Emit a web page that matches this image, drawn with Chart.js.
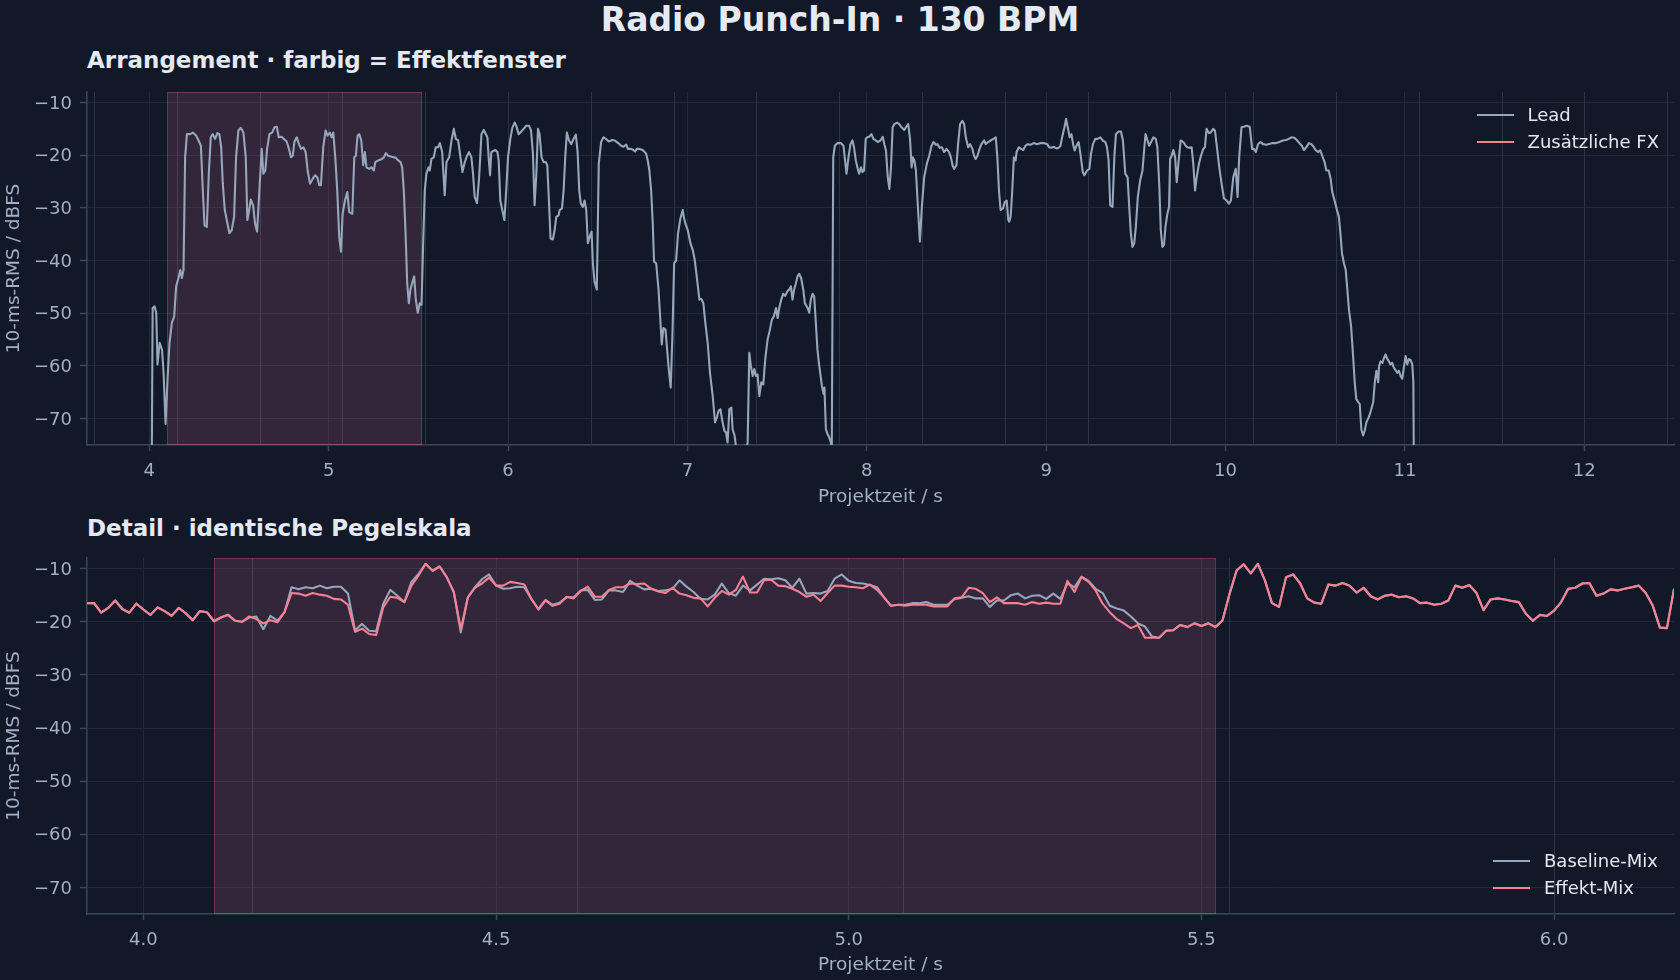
<!DOCTYPE html>
<html>
<head>
<meta charset="utf-8">
<script src="https://cdn.jsdelivr.net/npm/chart.js@4.4.1/dist/chart.umd.min.js"></script>
<style>
html,body{margin:0;padding:0;background:#111827;width:1680px;height:980px;overflow:hidden;font-family:"DejaVu Sans",sans-serif;}
.t{position:absolute;color:#e5e9f2;font-weight:bold;white-space:nowrap;line-height:1;}
canvas{position:absolute;left:0;}
.legend{position:absolute;right:22px;font-size:18px;color:#e2e8f0;display:flex;flex-direction:column;align-items:flex-start;}
.legend .row{display:flex;align-items:center;height:26.7px;line-height:1;white-space:nowrap;}
.legend .sw{width:37px;height:2px;margin-right:14px;}
</style>
</head>
<body>
<div class="t" style="left:0;width:1680px;text-align:center;top:3px;font-size:33px;">Radio Punch-In · 130 BPM</div>
<div class="t" style="left:87px;top:49px;font-size:23px;">Arrangement · farbig = Effektfenster</div>
<div class="t" style="left:87px;top:517px;font-size:23px;">Detail · identische Pegelskala</div>
<canvas id="c1" width="1680" height="436" style="top:72px;width:1680px;height:436px"></canvas>
<canvas id="c2" width="1680" height="438" style="top:538px;width:1680px;height:438px"></canvas>
<div class="legend" style="top:101.6px;right:21px">
  <div class="row"><span class="sw" style="background:#97a6bb"></span>Lead</div>
  <div class="row"><span class="sw" style="background:#fb7f92"></span>Zusätzliche FX</div>
</div>
<div class="legend" style="top:847.6px">
  <div class="row"><span class="sw" style="background:#97a6bb"></span>Baseline-Mix</div>
  <div class="row"><span class="sw" style="background:#fb7f92"></span>Effekt-Mix</div>
</div>
<script>
// ---------- data ----------
const BPM = 130;
const FX_WINDOW = [4.10, 5.52];

const leadT = [4.012,4.019,4.030,4.039,4.046,4.058,4.071,4.080,4.091,4.102,4.113,4.126,4.139,4.150,4.163,4.173,4.182,4.191,4.200,4.210,4.228,4.243,4.262,4.275,4.288,4.297,4.308,4.321,4.332,4.343,4.354,4.367,4.380,4.391,4.401,4.410,4.421,4.432,4.447,4.460,4.473,4.484,4.497,4.510,4.525,4.538,4.547,4.557,4.566,4.579,4.590,4.601,4.614,4.627,4.636,4.647,4.657,4.670,4.685,4.698,4.711,4.722,4.737,4.751,4.766,4.779,4.790,4.800,4.809,4.822,4.835,4.846,4.859,4.872,4.883,4.896,4.911,4.924,4.937,4.948,4.957,4.970,4.983,4.994,5.007,5.017,5.026,5.037,5.048,5.059,5.069,5.078,5.091,5.104,5.115,5.132,5.143,5.152,5.161,5.171,5.182,5.193,5.202,5.211,5.226,5.239,5.252,5.260,5.276,5.297,5.308,5.319,5.332,5.351,5.375,5.388,5.401,5.410,5.419,5.429,5.438,5.447,5.456,5.468,5.477,5.486,5.497,5.508,5.518,5.527,5.536,5.545,5.557,5.564,5.573,5.586,5.597,5.610,5.620,5.633,5.647,5.657,5.672,5.685,5.698,5.709,5.722,5.735,5.746,5.759,5.772,5.783,5.796,5.805,5.814,5.827,5.839,5.852,5.865,5.885,5.892,5.900,5.907,5.917,5.929,5.941,5.948,5.957,5.968,5.980,5.991,6.000,6.013,6.024,6.037,6.046,6.059,6.074,6.087,6.102,6.117,6.128,6.139,6.148,6.158,6.167,6.176,6.187,6.199,6.210,6.219,6.228,6.237,6.250,6.260,6.269,6.282,6.288,6.301,6.310,6.319,6.328,6.340,6.353,6.365,6.378,6.388,6.397,6.406,6.417,6.427,6.436,6.445,6.455,6.466,6.473,6.482,6.495,6.506,6.519,6.532,6.547,6.562,6.581,6.594,6.607,6.622,6.631,6.644,6.659,6.668,6.686,6.699,6.709,6.718,6.733,6.751,6.770,6.779,6.788,6.798,6.807,6.814,6.826,6.839,6.848,6.857,6.866,6.878,6.887,6.896,6.907,6.917,6.926,6.937,6.948,6.961,6.974,6.980,6.989,7.002,7.017,7.030,7.041,7.052,7.067,7.078,7.089,7.100,7.113,7.126,7.141,7.154,7.165,7.174,7.184,7.193,7.206,7.215,7.224,7.234,7.245,7.252,7.263,7.275,7.299,7.317,7.327,7.336,7.345,7.354,7.364,7.373,7.382,7.391,7.401,7.412,7.423,7.434,7.447,7.460,7.471,7.482,7.494,7.503,7.512,7.523,7.534,7.545,7.558,7.568,7.577,7.586,7.595,7.605,7.614,7.623,7.634,7.646,7.655,7.670,7.679,7.688,7.698,7.707,7.716,7.725,7.735,7.750,7.759,7.764,7.772,7.781,7.790,7.800,7.805,7.813,7.822,7.837,7.855,7.870,7.879,7.887,7.898,7.909,7.920,7.929,7.939,7.950,7.957,7.968,7.976,7.985,7.994,8.003,8.013,8.026,8.037,8.050,8.061,8.076,8.089,8.098,8.107,8.117,8.126,8.135,8.144,8.154,8.169,8.181,8.194,8.209,8.220,8.231,8.241,8.250,8.257,8.265,8.274,8.283,8.296,8.307,8.320,8.335,8.348,8.361,8.372,8.385,8.394,8.407,8.419,8.431,8.444,8.459,8.469,8.478,8.487,8.500,8.509,8.520,8.533,8.543,8.552,8.565,8.576,8.589,8.598,8.607,8.617,8.626,8.639,8.654,8.663,8.676,8.691,8.706,8.719,8.728,8.737,8.746,8.759,8.769,8.780,8.789,8.794,8.802,8.811,8.820,8.830,8.835,8.848,8.861,8.872,8.885,8.898,8.913,8.931,8.950,8.969,8.987,9.006,9.017,9.028,9.043,9.057,9.070,9.080,9.089,9.102,9.111,9.122,9.131,9.141,9.150,9.159,9.169,9.181,9.191,9.204,9.213,9.228,9.241,9.250,9.261,9.274,9.287,9.302,9.315,9.330,9.339,9.348,9.357,9.370,9.380,9.389,9.404,9.417,9.428,9.441,9.454,9.463,9.472,9.481,9.491,9.500,9.511,9.524,9.537,9.546,9.554,9.565,9.574,9.585,9.598,9.611,9.620,9.631,9.639,9.648,9.657,9.665,9.676,9.685,9.691,9.700,9.709,9.719,9.728,9.737,9.750,9.765,9.778,9.787,9.802,9.811,9.820,9.830,9.839,9.852,9.863,9.876,9.885,9.894,9.907,9.917,9.931,9.941,9.950,9.965,9.978,9.991,10.006,10.019,10.030,10.043,10.057,10.067,10.076,10.089,10.102,10.117,10.135,10.148,10.159,10.169,10.181,10.194,10.209,10.228,10.263,10.282,10.300,10.319,10.338,10.353,10.366,10.384,10.397,10.412,10.425,10.437,10.450,10.465,10.478,10.491,10.502,10.515,10.528,10.539,10.552,10.562,10.575,10.586,10.595,10.608,10.621,10.632,10.642,10.649,10.660,10.670,10.679,10.688,10.700,10.711,10.720,10.729,10.741,10.748,10.757,10.767,10.776,10.785,10.799,10.810,10.823,10.832,10.841,10.851,10.856,10.864,10.875,10.882,10.892,10.901,10.910,10.920,10.929,10.938,10.948,10.957,10.966,10.976,10.985,10.994,11.004,11.013,11.022,11.032,11.041,11.047,11.052];

const leadV = [-90,-49.0,-48.7,-49.9,-59.7,-55.6,-56.9,-61.3,-71.0,-62.5,-55.6,-51.8,-50.6,-44.9,-43.3,-41.8,-43.3,-41.8,-20.4,-16.0,-16.0,-15.7,-16.3,-17.2,-18.2,-25.4,-33.3,-33.6,-23.5,-16.6,-16.0,-16.9,-15.8,-16.0,-18.5,-25.4,-30.4,-32.3,-34.8,-34.2,-31.7,-20.4,-15.3,-14.8,-15.7,-20.4,-32.3,-30.4,-28.4,-29.5,-33.0,-34.5,-26.7,-18.8,-23.5,-22.9,-18.8,-16.0,-15.7,-14.7,-14.6,-16.6,-16.5,-16.9,-17.4,-18.8,-20.4,-20.1,-17.5,-16.6,-17.9,-18.8,-18.5,-19.4,-22.9,-25.4,-24.5,-23.8,-24.2,-25.7,-25.7,-18.5,-15.3,-16.3,-15.7,-16.6,-15.7,-20.4,-26.7,-35.5,-38.3,-31.1,-28.6,-27.0,-30.8,-31.1,-20.4,-20.1,-16.3,-16.0,-17.2,-21.9,-19.4,-22.3,-22.6,-22.3,-22.9,-21.3,-21.0,-20.7,-20.4,-19.6,-20.1,-20.3,-20.5,-21.0,-21.3,-22.3,-26.7,-34.8,-44.3,-48.1,-45.5,-44.0,-43.0,-47.4,-49.9,-48.1,-48.4,-36.7,-26.7,-23.5,-22.3,-22.9,-20.7,-20.4,-18.5,-18.5,-17.7,-19.4,-27.6,-21.3,-20.4,-17.2,-15.0,-16.9,-17.2,-20.4,-23.2,-21.3,-20.1,-19.4,-20.4,-23.5,-27.9,-29.1,-24.2,-16.0,-15.2,-16.6,-20.4,-23.8,-19.4,-19.2,-19.0,-19.4,-21.0,-28.6,-30.4,-32.3,-26.0,-20.4,-16.9,-14.8,-13.8,-14.4,-16.0,-15.5,-15.0,-14.4,-14.4,-15.3,-19.7,-29.5,-23.5,-15.0,-16.0,-20.4,-21.3,-21.3,-21.9,-28.6,-35.8,-36.0,-34.2,-31.7,-31.4,-30.4,-30.1,-26.7,-20.4,-15.7,-17.2,-17.9,-16.9,-16.1,-19.4,-26.7,-29.2,-29.8,-28.6,-30.4,-36.7,-35.5,-34.5,-40.5,-44.0,-45.5,-21.6,-17.5,-16.6,-16.9,-17.4,-17.1,-17.2,-17.5,-17.9,-18.2,-18.4,-18.0,-18.8,-18.8,-19.0,-19.3,-18.8,-18.8,-19.0,-19.7,-21.0,-22.9,-26.7,-33.0,-40.2,-40.5,-45.5,-50.6,-55.9,-52.8,-53.1,-56.9,-60.6,-64.1,-53.7,-40.5,-40.0,-34.8,-32.0,-30.4,-31.7,-33.0,-34.2,-36.7,-38.0,-39.9,-43.0,-47.4,-47.3,-48.1,-51.8,-55.6,-61.3,-65.7,-70.7,-69.7,-68.5,-68.2,-70.1,-72.3,-72.6,-74.5,-68.2,-67.9,-72.0,-73.2,-76.4,-77.6,-75.1,-76.0,-74.5,-57.5,-60.0,-61.9,-60.6,-61.9,-61.6,-65.7,-63.1,-63.5,-58.7,-55.0,-53.1,-51.2,-50.6,-49.0,-50.9,-49.0,-47.4,-46.3,-46.7,-45.8,-45.5,-44.9,-47.4,-45.5,-44.3,-43.0,-42.5,-43.3,-45.5,-48.1,-49.0,-49.9,-47.4,-46.3,-46.8,-51.8,-56.9,-60.0,-63.8,-65.3,-64.1,-72.0,-72.9,-73.5,-74.5,-76.0,-20.4,-18.2,-17.7,-17.7,-18.2,-21.0,-23.5,-20.4,-17.9,-17.2,-18.5,-21.0,-22.6,-23.5,-22.3,-23.2,-22.9,-16.9,-16.6,-16.5,-16.0,-16.9,-17.2,-17.5,-17.2,-16.5,-17.9,-19.1,-24.2,-26.4,-22.3,-14.7,-14.1,-13.8,-14.1,-14.7,-15.2,-14.6,-14.1,-16.9,-22.3,-20.4,-21.0,-22.9,-28.6,-36.4,-29.8,-24.2,-21.6,-20.1,-18.2,-17.5,-18.0,-17.9,-18.6,-18.5,-19.4,-18.8,-19.4,-20.4,-21.9,-22.6,-21.9,-17.9,-14.1,-13.5,-14.1,-16.6,-18.5,-17.9,-18.8,-20.1,-20.7,-20.1,-19.1,-17.9,-17.2,-17.9,-17.5,-17.2,-16.9,-16.6,-20.4,-26.7,-30.4,-30.1,-28.9,-28.6,-32.3,-32.6,-31.7,-26.7,-20.4,-21.0,-19.4,-18.5,-18.8,-19.0,-18.2,-17.9,-18.0,-17.7,-17.9,-17.7,-17.7,-17.9,-18.5,-18.6,-18.4,-18.7,-18.6,-18.2,-16.6,-14.7,-13.1,-15.0,-16.6,-16.0,-17.9,-19.1,-18.2,-17.5,-19.7,-23.2,-23.8,-22.9,-22.6,-19.7,-17.9,-16.9,-16.9,-16.6,-17.2,-17.5,-18.5,-21.0,-29.5,-29.8,-20.4,-16.0,-15.5,-15.5,-17.2,-23.5,-24.2,-29.8,-34.8,-37.4,-36.7,-33.6,-27.9,-24.8,-22.9,-19.1,-16.0,-17.2,-18.2,-17.5,-16.6,-16.9,-18.5,-26.0,-34.2,-37.4,-37.0,-33.6,-31.1,-29.8,-20.7,-20.1,-19.0,-20.4,-25.1,-21.6,-17.2,-17.5,-18.2,-18.5,-18.6,-18.5,-21.6,-26.7,-24.2,-21.6,-20.1,-18.8,-18.5,-15.0,-15.8,-15.7,-15.0,-15.3,-17.9,-22.3,-25.4,-28.2,-28.6,-29.2,-28.6,-24.2,-22.6,-27.9,-20.4,-14.7,-14.6,-14.4,-14.6,-18.8,-18.8,-19.4,-17.9,-17.5,-17.9,-18.0,-17.7,-17.7,-17.5,-17.2,-17.1,-16.9,-16.6,-16.7,-17.1,-17.7,-18.2,-19.0,-18.5,-17.7,-17.9,-18.4,-19.0,-19.4,-19.1,-20.1,-21.3,-22.9,-22.9,-24.5,-27.0,-28.6,-30.4,-31.7,-35.5,-38.6,-40.5,-41.8,-45.5,-49.3,-52.5,-58.1,-63.1,-66.3,-66.9,-67.2,-72.0,-73.2,-72.3,-70.7,-69.7,-68.5,-66.9,-63.1,-60.9,-63.1,-60.0,-59.1,-59.4,-58.6,-57.8,-58.6,-59.1,-59.7,-59.4,-60.3,-60.8,-61.3,-60.9,-61.9,-62.4,-60.3,-58.1,-59.7,-58.7,-58.9,-59.7,-63.1,-90];

// Zusätzliche FX: no visible level in the arrangement view
const fxT = [];
const fxV = [];

const detailT = [3.92,3.93,3.94,3.95,3.96,3.97,3.98,3.99,
4.00,4.01,4.02,4.03,4.04,4.05,4.06,4.07,4.08,4.09,4.10,4.11,4.12,4.13,4.14,4.15,4.16,4.17,4.18,4.19,4.20,4.21,4.22,4.23,4.24,4.25,4.26,4.27,4.28,4.29,4.30,4.31,4.32,4.33,4.34,4.35,4.36,4.37,4.38,4.39,4.40,4.41,4.42,4.43,4.44,4.45,4.46,4.47,4.48,4.49,4.50,4.51,4.52,4.53,4.54,4.55,4.56,4.57,4.58,4.59,4.60,4.61,4.62,4.63,4.64,4.65,4.66,4.67,4.68,4.69,4.70,4.71,4.72,4.73,4.74,4.75,4.76,4.77,4.78,4.79,4.80,4.81,4.82,4.83,4.84,4.85,4.86,4.87,4.88,4.89,4.90,4.91,4.92,4.93,4.94,4.95,4.96,4.97,4.98,4.99,
5.00,5.01,5.02,5.03,5.04,5.05,5.06,5.07,5.08,5.09,5.10,5.11,5.12,5.13,5.14,5.15,5.16,5.17,5.18,5.19,5.20,5.21,5.22,5.23,5.24,5.25,5.26,5.27,5.28,5.29,5.30,5.31,5.32,5.33,5.34,5.35,5.36,5.37,5.38,5.39,5.40,5.41,5.42,5.43,5.44,5.45,5.46,5.47,5.48,5.49,5.50,5.51,5.52,5.53,5.54,5.55,5.56,5.57,5.58,5.59,5.60,5.61,5.62,5.63,5.64,5.65,5.66,5.67,5.68,5.69,5.70,5.71,5.72,5.73,5.74,5.75,5.76,5.77,5.78,5.79,5.80,5.81,5.82,5.83,5.84,5.85,5.86,5.87,5.88,5.89,5.90,5.91,5.92,5.93,5.94,5.95,5.96,5.97,5.98,5.99,
6.00,6.01,6.02,6.03,6.04,6.05,6.06,6.07,6.08,6.09,6.10,6.11,6.12,6.13,6.14,6.15,6.16,6.17];

const effektV = [-16.5,-16.5,-18.3,-17.4,-16.0,-17.6,-18.3,-16.6,-17.7,-18.7,-17.3,-18.0,-18.9,-17.4,-18.4,-19.7,-18.0,-18.2,-19.9,-19.2,-18.7,-19.8,-20.0,-19.0,-19.5,-20.3,-19.7,-20.1,-18.2,-14.6,-14.7,-15.1,-14.6,-14.9,-15.1,-15.7,-15.8,-16.8,-21.9,-21.3,-22.3,-22.5,-17.3,-15.3,-15.5,-16.3,-13.2,-11.3,-9.1,-10.4,-9.6,-11.6,-14.4,-21.4,-15.4,-13.6,-12.8,-11.7,-13.2,-13.2,-12.5,-12.7,-13.0,-15.7,-17.7,-16.0,-17.0,-16.6,-15.3,-15.6,-14.2,-13.4,-15.3,-15.3,-14.0,-13.5,-13.5,-12.8,-12.9,-12.8,-13.8,-14.3,-14.6,-13.6,-14.7,-15.0,-15.5,-15.6,-17.1,-15.5,-14.2,-14.9,-14.0,-11.5,-14.5,-14.5,-12.2,-12.1,-13.2,-13.3,-13.8,-14.4,-15.3,-14.9,-16.1,-14.6,-13.2,-13.2,-13.4,-13.5,-13.7,-13.0,-14.0,-15.4,-17.0,-16.8,-17.0,-16.8,-16.8,-16.8,-17.1,-17.1,-17.1,-15.6,-15.4,-13.6,-13.8,-14.6,-16.3,-15.4,-16.5,-16.5,-16.5,-16.8,-16.3,-16.6,-16.4,-16.6,-16.6,-12.3,-14.4,-11.6,-12.5,-14.1,-16.6,-18.2,-19.5,-20.3,-21.2,-20.6,-23.0,-23.0,-23.0,-21.7,-21.6,-20.6,-21.0,-20.3,-20.8,-20.3,-21.0,-19.7,-14.7,-10.3,-9.2,-10.9,-9.1,-12.2,-16.5,-17.2,-11.6,-11.1,-12.8,-15.6,-16.4,-16.6,-13.0,-13.2,-12.7,-13.2,-14.5,-13.6,-15.2,-15.8,-15.1,-14.9,-15.4,-15.2,-15.6,-16.5,-16.4,-16.8,-16.6,-16.0,-13.2,-13.6,-13.1,-14.6,-17.8,-15.8,-15.6,-15.8,-16.1,-16.3,-18.5,-19.8,-18.7,-18.9,-17.9,-16.3,-13.8,-13.6,-12.8,-12.7,-15.1,-14.7,-13.9,-14.1,-13.8,-13.5,-13.2,-14.6,-17.0,-21.1,-21.2,-13.8];

const baselineV = [-16.5,-16.5,-18.3,-17.4,-16.0,-17.6,-18.3,-16.6,-17.7,-18.7,-17.3,-18.0,-18.9,-17.4,-18.4,-19.7,-18.0,-18.2,-19.9,-19.2,-18.7,-19.8,-20.0,-19.2,-19.0,-21.4,-18.9,-19.8,-18.2,-13.5,-13.9,-13.5,-13.7,-13.2,-13.7,-13.4,-13.4,-14.7,-21.6,-20.4,-21.7,-21.8,-16.6,-14.0,-15.1,-16.3,-12.5,-11.0,-9.1,-10.4,-9.6,-11.6,-14.4,-22.0,-15.4,-13.5,-12.0,-11.1,-13.2,-13.8,-13.7,-13.4,-13.5,-15.7,-17.6,-15.9,-16.8,-16.4,-15.4,-15.4,-14.1,-14.0,-15.9,-15.8,-14.1,-14.1,-14.4,-12.3,-13.2,-13.9,-13.8,-14.2,-14.1,-13.8,-12.2,-13.4,-14.4,-15.7,-15.8,-14.9,-12.8,-14.6,-15.1,-13.2,-14.1,-13.0,-11.9,-12.0,-11.8,-12.2,-13.6,-11.9,-14.7,-14.6,-14.7,-14.2,-11.9,-11.1,-12.3,-12.7,-12.8,-13.1,-13.5,-15.4,-17.0,-16.8,-16.8,-16.5,-16.5,-16.3,-16.8,-16.8,-16.8,-15.7,-15.5,-15.2,-15.6,-15.6,-17.2,-16.0,-16.0,-15.0,-14.7,-15.6,-15.1,-15.0,-15.7,-14.7,-15.7,-12.8,-13.5,-11.5,-12.3,-13.8,-14.6,-17.0,-17.5,-17.9,-19.0,-20.3,-20.9,-22.8,-23.0,-21.7,-21.6,-20.6,-21.0,-20.3,-20.8,-20.3,-21.0,-19.7,-14.7,-10.3,-9.2,-10.9,-9.1,-12.2,-16.5,-17.2,-11.6,-11.1,-12.8,-15.6,-16.4,-16.6,-13.0,-13.2,-12.7,-13.2,-14.5,-13.6,-15.2,-15.8,-15.1,-14.9,-15.4,-15.2,-15.6,-16.5,-16.4,-16.8,-16.6,-16.0,-13.2,-13.6,-13.1,-14.6,-17.8,-15.8,-15.6,-15.8,-16.1,-16.3,-18.5,-19.8,-18.7,-18.9,-17.9,-16.3,-13.8,-13.6,-12.8,-12.7,-15.1,-14.7,-13.9,-14.1,-13.8,-13.5,-13.2,-14.6,-17.0,-21.1,-21.2,-13.8];

const yTicks = [-70,-60,-50,-40,-30,-20,-10];

// ---------- styling ----------
const GRID = '#1f2937';
const BEAT = '#2b3545';
const SPINE = '#3b4656';
const TICK = '#a3afc2';
const GRAY = '#97a6bb';
const PINK = '#fb7f92';
const FONT = '"DejaVu Sans", sans-serif';

Chart.defaults.font.family = FONT;

const pts = (xs, ys) => xs.map((x, i) => ({x: x, y: ys[i]}));

const overlay = {
  id: 'overlay',
  beforeDatasetsDraw(chart) {
    const {ctx, chartArea: a, scales: {x}} = chart;
    ctx.save();
    ctx.beginPath();
    ctx.rect(a.left, a.top, a.right - a.left, a.bottom - a.top);
    ctx.clip();
    const beat = 60 / BPM;
    ctx.strokeStyle = BEAT;
    ctx.lineWidth = 1;
    for (let k = Math.ceil(x.min / beat); k * beat <= x.max; k++) {
      const px = Math.round(x.getPixelForValue(k * beat)) + 0.5;
      ctx.beginPath();
      ctx.moveTo(px, a.top);
      ctx.lineTo(px, a.bottom);
      ctx.stroke();
    }
    const x0 = x.getPixelForValue(FX_WINDOW[0]);
    const x1 = x.getPixelForValue(FX_WINDOW[1]);
    ctx.fillStyle = 'rgba(236,120,170,0.15)';
    ctx.fillRect(x0, a.top, x1 - x0, a.bottom - a.top);
    ctx.strokeStyle = 'rgba(251,113,133,0.28)';
    ctx.lineWidth = 1;
    ctx.strokeRect(Math.round(x0) + 0.5, a.top + 0.5, Math.round(x1 - x0) - 1, a.bottom - a.top - 1);
    ctx.restore();
  }
};

function makeChart(id, datasets, xmin, xmax, step, fmt, xH) {
  return new Chart(document.getElementById(id), {
    type: 'line',
    data: {datasets: datasets},
    plugins: [overlay],
    options: {
      responsive: false,
      maintainAspectRatio: false,
      animation: false,
      devicePixelRatio: 1,
      layout: {padding: {left: 0, right: 6, top: 20, bottom: 0}},
      plugins: {legend: {display: false}, tooltip: {enabled: false}, title: {display: false}},
      elements: {point: {radius: 0}, line: {tension: 0, borderWidth: 2.1, borderJoinStyle: 'round'}},
      scales: {
        x: {
          type: 'linear', min: xmin, max: xmax,
          ticks: {stepSize: step, includeBounds: false, autoSkip: false, maxRotation: 0,
                  color: TICK, font: {size: 18}, padding: 9.5, callback: fmt},
          grid: {color: GRID, lineWidth: 1, tickLength: 6, tickColor: SPINE, tickWidth: 1.5},
          border: {display: true, color: SPINE, width: 1.5},
          title: {display: true, text: 'Projektzeit / s', color: TICK, font: {size: 18.5}, padding: {top: 0, bottom: 0}},
          afterFit: s => { s.height = xH; }
        },
        y: {
          type: 'linear', min: -75, max: -8,
          afterBuildTicks: s => { s.ticks = yTicks.map(v => ({value: v})); },
          ticks: {color: TICK, font: {size: 18}, padding: 8, labelOffset: 1.5,
                  callback: v => (v < 0 ? '\u2212' : '') + Math.abs(v)},
          grid: {color: GRID, lineWidth: 1, tickLength: 7, tickColor: SPINE, tickWidth: 1.5},
          border: {display: true, color: SPINE, width: 1.5},
          title: {display: true, text: '10-ms-RMS / dBFS', color: TICK, font: {size: 18.5}, padding: {top: 3, bottom: 0}},
          afterFit: s => { s.width = 87; }
        }
      }
    }
  });
}

makeChart('c1', [
  {label: 'Lead', data: pts(leadT, leadV), borderColor: GRAY, backgroundColor: GRAY, fill: false, order: 1},
  {label: 'Zusätzliche FX', data: pts(fxT, fxV), borderColor: PINK, backgroundColor: PINK, fill: false, order: 0}
], 3.653, 12.5, 1, v => String(Math.round(v)), 63);

makeChart('c2', [
  {label: 'Baseline-Mix', data: pts(detailT, baselineV), borderColor: GRAY, backgroundColor: GRAY, fill: false, order: 1},
  {label: 'Effekt-Mix', data: pts(detailT, effektV), borderColor: PINK, backgroundColor: PINK, fill: false, order: 0}
], 3.92, 6.17, 0.5, v => Number(v).toFixed(1), 62);
</script>
</body>
</html>
